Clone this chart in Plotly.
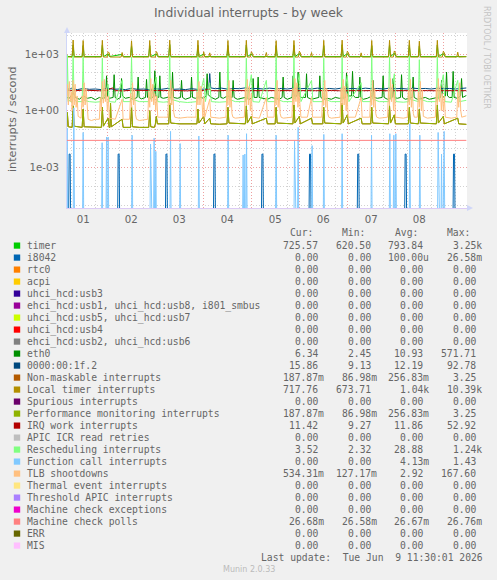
import pandas as pd
import plotly.graph_objects as go

# ---------------- data (hours since 2026-06-01 00:00, value in interrupts/s) ----------------
START = pd.Timestamp("2026-06-01 00:00")
RANGE_H = (3.83, 203.83)

timer_pts = [(3.8,740),(6.4,730),(6.9,3000),(7.4,730),(11.4,730),(11.9,2800),(12.4,730),(21.0,730),(21.5,2900),(22.0,730),
             (24.4,1000),(25.0,730),(31.4,950),(32.0,730),(35.6,730),(36.1,2700),(36.6,730),(44.7,730),(45.2,2800),(45.7,730),
             (48.5,1000),(49.2,730),(54.7,730),(55.2,3200),(55.7,730),(68.8,730),(69.3,2900),(69.8,730),(72.2,1000),(72.8,730),
             (83.8,730),(84.3,2800),(84.8,730),(93.0,730),(93.5,3000),(94.0,730),(96.0,1000),(96.8,730),(107.9,730),(108.4,2700),
             (108.9,730),(116.8,730),(117.3,2900),(117.8,730),(120.0,1050),(120.8,730),(131.7,730),(132.2,2800),(132.7,730),
             (140.9,730),(141.4,3100),(141.9,730),(144.0,1050),(144.8,730),(155.7,730),(156.2,2800),(156.7,730),(164.6,730),
             (165.1,3000),(165.6,730),(167.5,1100),(168.3,730),(174.5,730),(175.0,2900),(175.5,730),(179.5,730),(180.0,2600),
             (180.5,730),(188.5,730),(189.0,3000),(189.5,730),(192.0,1050),(192.8,730),(203.5,725.57)]

i8042_pts = [(3.8,0),(4.4,0),(4.9,0.005),(5.4,0.005),(5.9,0),(28.9,0),(29.4,0.005),(29.9,0.005),(30.4,0),(52.8,0),(53.3,0.005),
             (53.8,0.005),(54.3,0),(76.8,0),(77.3,0.005),(77.8,0.005),(78.3,0),(100.8,0),(101.3,0.005),(101.8,0.005),(102.3,0),
             (124.6,0),(125.1,0.005),(125.6,0.005),(126.1,0),(148.7,0),(149.2,0.005),(149.7,0.005),(150.2,0),(172.4,0),
             (172.9,0.005),(173.4,0.005),(173.9,0),(196.6,0),(197.1,0.005),(197.6,0.005),(198.1,0),(203.5,0)]

zero_pts = [(3.8,0.0),(203.5,0.0)]

eth0_pts = [(3.8,5),(5,4.5),(7,9),(8,5),(10,4),(12,6),(14,4.5),(16,5),(18,3.8),(20,5),(22,4.5),(23.1,5),(23.6,70),(24.1,6),
            (25,4.5),(26.9,5),(27.4,80),(27.9,5),(29,4),(30.6,5),(31.1,50),(31.6,6),(33,4.5),(35,5),(37,4),(38.9,5),(39.4,60),
            (39.9,5),(41,4.2),(43.1,5),(43.6,45),(44.1,5),(46,4.5),(47.25,6),(47.75,130),(48.25,6),(49.75,5),(50.25,70),
            (50.75,5),(52,4.5),(54,5),(56.1,5),(56.6,110),(57.1,5),(59,4.5),(60.6,5),(61.1,40),(61.6,5),(63,4),(65.6,5),
            (66.1,60),(66.6,5),(68,4.5),(70,5.5),(72,4.5),(73.4,6),(73.9,90),(74.4,7),(76,5),(78,4),(79.75,5),(80.25,110),
            (80.75,5),(82,4.5),(84,6),(86.4,5),(86.9,40),(87.4,5),(89,4),(91,4.5),(93,5),(95,4),(96.4,5),(96.9,50),(97.4,5),
            (98.9,5),(99.4,60),(99.9,5),(102,4.5),(104,4),(106,5),(108,4.5),(110,4),(111.4,5),(111.9,60),(112.4,5),(114,4),
            (116.4,5),(116.9,70),(117.4,6),(118.9,6),(119.4,110),(119.9,6),(121,5),(123.1,5),(123.6,90),(124.1,5),(126,4),
            (128,4.5),(129.75,5),(130.25,70),(130.75,5),(132,4),(134,4.5),(136,4),(138,5),(140,4.5),(142,5),(143.1,5),
            (143.6,100),(144.1,6),(146.1,6),(146.6,120),(147.1,6),(148,5),(149.75,5),(150.25,60),(150.75,5),(152,4),
            (154,4.5),(156.4,6),(156.9,40),(157.4,5),(159,4.5),(161.4,5),(161.9,70),(162.4,5),(164,4),(166.4,5),(166.9,50),
            (167.4,5),(169,4.5),(170.6,5),(171.1,80),(171.6,5),(173,4),(175,4.5),(176.4,5),(176.9,60),(177.4,5),(179,4),
            (181,4.5),(183,5),(185,4),(187,4.5),(189,5),(190.6,5),(191.1,40),(191.6,5),(193.1,6),(193.6,110),(194.1,6),
            (195,5),(196.4,5),(196.9,120),(197.4,5),(199,4.5),(200.6,6),(201.1,50),(201.6,5),(203.5,6.34)]

sata_pts = [(3.8,13.5),(6,14.5),(9,13),(12,15),(15,13.5),(18,14),(21,13),(24,15.5),(27,13.5),(30,14),(33,13),(36,15),
            (39,13.5),(42,14),(45,13),(48,14.5),(51,13.5),(54,15),(57,13.5),(60,14),(63,13),(66,14.5),(69,13.5),(72,14),
            (74.7,14),(75.2,92),(75.7,16),(78,14.5),(81,15.5),(84,14),(87,15),(90,14.5),(93,16),(96,14.5),(99,15),(102,14),
            (105,15.5),(108,14.5),(111,15),(114,14),(117,15.5),(120,14.5),(123,15),(126,14),(129,15.5),(132,14.5),(135,15),
            (138,14),(141,15.5),(144,14.5),(147,15),(150,14),(153,15.5),(156,14.5),(159,15),(162,14),(165,15.5),(168,14.5),
            (171,15),(174,14),(177,15.5),(180,14.5),(183,15),(186,14),(189,15.5),(192,14.5),(195,15),(198,14),(201,15.5),
            (203.5,15.86)]

loc_pts = [(3.8,700),(6.4,690),(6.9,5500),(7.4,690),(11.4,690),(11.9,5200),(12.4,690),(21.0,690),(21.5,5300),(22.0,690),
           (23.9,690),(24.4,1300),(24.9,1150),(25.4,690),(30.9,690),(31.4,1200),(31.9,690),(35.6,690),(36.1,5000),(36.6,690),
           (44.7,690),(45.2,5200),(45.7,690),(48.0,690),(48.5,1350),(49.0,1100),(49.5,690),(54.7,690),(55.2,5400),(55.7,690),
           (68.8,690),(69.3,5300),(69.8,690),(71.7,690),(72.2,1300),(72.7,690),(74.7,690),(75.2,1150),(75.7,690),
           (83.8,690),(84.3,5200),(84.8,690),(93.0,690),(93.5,5300),(94.0,690),(95.5,690),(96.0,1300),(96.5,1100),(97.0,690),
           (103.0,690),(103.5,1200),(104.0,690),(107.9,690),(108.4,5100),(108.9,690),(116.8,690),(117.3,5200),(117.8,690),
           (119.5,690),(120.0,1400),(120.5,1150),(121.0,690),(125.6,690),(126.1,1200),(126.6,690),(131.7,690),(132.2,5300),
           (132.7,690),(140.9,690),(141.4,5400),(141.9,690),(143.5,690),(144.0,1400),(144.5,1200),(145.0,690),(150.4,690),
           (150.9,1150),(151.4,690),(155.7,690),(156.2,5200),(156.7,690),(164.6,690),(165.1,5300),(165.6,690),(167.0,690),
           (167.5,1450),(168.0,1200),(168.5,690),(174.5,690),(175.0,5300),(175.5,690),(179.5,690),(180.0,4800),(180.5,690),
           (188.5,690),(189.0,5300),(189.5,690),(191.5,690),(192.0,1400),(192.5,1150),(193.0,690),(198.7,690),(199.2,1250),
           (199.7,690),(203.5,717.76)]

pmi_pts = [(3.8,0.14),(4.0,0.8),(4.5,0.14),(6.4,0.13),(6.9,1.8),(7.4,0.15),(11.4,0.13),(11.9,1.2),(12.4,0.14),(18,0.13),
           (21.0,0.13),(21.5,1.5),(22.0,0.15),(24.4,0.4),(24.9,0.13),(25.3,0.13),(25.6,2.5),(26.0,0.14),(31.4,0.35),
           (31.9,0.13),(35.6,0.13),(36.1,1.8),(36.6,0.14),(40,0.13),(44.7,0.13),(45.2,1.0),(45.7,0.14),(47.5,0.13),
           (48.0,0.19),(48.5,0.5),(49.0,0.2),(54.7,0.2),(55.2,2.5),(55.7,0.22),(60,0.2),(68.8,0.2),(69.3,1.2),(69.8,0.22),
           (72.2,0.5),(72.7,0.2),(75.2,0.4),(75.7,0.2),(80,0.19),(83.8,0.2),(84.3,1.5),(84.8,0.22),(93.0,0.2),(93.5,1.8),
           (94.0,0.22),(96.0,0.5),(96.5,0.2),(103.5,0.4),(104.0,0.2),(107.9,0.2),(108.4,1.5),(108.9,0.22),(116.8,0.2),
           (117.3,2.0),(117.8,0.22),(120.0,0.5),(120.5,0.2),(126.1,0.4),(126.6,0.2),(131.7,0.2),(132.2,1.5),(132.7,0.22),
           (140.9,0.2),(141.4,2.5),(141.9,0.22),(144.0,0.6),(144.5,0.2),(150.9,0.4),(151.4,0.2),(155.7,0.2),(156.2,1.5),
           (156.7,0.22),(164.6,0.2),(165.1,1.8),(165.6,0.22),(167.5,0.6),(168.0,0.2),(174.5,0.2),(175.0,1.5),(175.5,0.22),
           (179.5,0.2),(180.0,1.2),(180.5,0.22),(188.5,0.2),(189.0,2.0),(189.5,0.22),(192.0,0.5),(192.5,0.2),(199.2,0.4),
           (199.7,0.2),(203.5,0.188)]
nmi_pts = pmi_pts  # identical readings (same Cur/Min/Avg/Max)

iwi_pts = [(3.8,11.8),(8,11.4),(12,12.2),(16,11.5),(20,11.3),(24,11.9),(26.5,16),(28,11.5),(32,11.2),(36,12.0),(40,11.6),
           (44,11.3),(48,11.8),(52,11.5),(56,11.7),(60,11.4),(64,11.2),(68,11.9),(72,11.6),(75.2,14),(76,11.5),(80,11.3),
           (84,12.0),(88,11.5),(92,11.6),(96,11.3),(100,11.7),(104,11.4),(108,11.9),(112,11.5),(116,11.3),(120,11.8),
           (124,11.5),(128,11.4),(132,11.9),(136,11.6),(140,11.3),(144,11.8),(148,11.5),(152,11.4),(156,11.9),(160,11.6),
           (164,11.3),(168,11.7),(172,11.5),(176,11.4),(180,11.8),(184,11.5),(188,11.3),(192,11.7),(196,11.5),(200,11.4),
           (203.5,11.42)]

res_pts = [(3.8,3),(4.0,900),(4.5,4),(5.5,3),(6.4,3),(6.9,800),(7.4,4),(8.5,3),(11.4,3),(11.9,700),(12.4,3.5),(15,3),
           (18,2.8),(21.0,3),(21.5,600),(22.0,4),(24.4,25),(25,3),(28,2.8),(31.4,40),(32,3),(35.6,3),(36.1,700),(36.6,4),
           (40,3),(44.7,3),(45.2,500),(45.7,4),(48.5,60),(49.2,3),(52,2.8),(54.7,3),(55.2,800),(55.7,4),(60,3),(64,2.7),
           (68.8,3),(69.3,700),(69.8,4),(72.2,50),(73,3),(75.2,30),(76,3),(80,2.8),(83.8,3),(84.3,800),(84.8,4),(88,3),
           (93.0,3),(93.5,600),(94.0,4),(96.0,80),(96.8,3),(100,2.8),(103.5,40),(104.2,3),(107.9,3),(108.4,700),(108.9,4),
           (112,3),(116.8,3),(117.3,800),(117.8,4),(120.0,90),(120.8,3),(126.1,40),(126.8,3),(131.7,3),(132.2,600),
           (132.7,4),(136,3),(140.9,3),(141.4,700),(141.9,4),(144.0,70),(144.8,3),(150.9,30),(151.6,3),(155.7,3),
           (156.2,800),(156.7,4),(160,3),(164.6,3),(165.1,700),(165.6,4),(167.5,90),(168.3,3),(172,2.8),(174.5,3),
           (175.0,800),(175.5,4),(179.5,3),(180.0,500),(180.5,4),(184,3),(188.5,3),(189.0,700),(189.5,4),(192.0,80),
           (192.8,3),(196,2.8),(199.2,40),(200,3),(203.5,3.52)]

cal_pts = [(3.8,0),(3.9,0.12),(4.3,0),(6.75,0),(7.25,1.4),(7.75,0),(11.4,0),(11.9,0.07),(12.4,0),(20.9,0),(21.4,0.02),
           (21.9,0),(23.1,0),(23.6,0.04),(24.0,0),(24.4,0.04),(24.9,0),(35.9,0),(36.4,0.05),(36.9,0),(45.1,0),(45.6,0.017),
           (46.1,0),(46.9,0),(47.4,0.035),(47.8,0),(48.25,0.007),(48.7,0),(55.1,0),(55.6,0.08),(56.1,0),(59.9,0),
           (60.4,0.018),(60.9,0),(69.25,0),(69.75,0.045),(70.25,0),(83.9,0),(84.4,0.05),(84.9,0),(91.4,0),(91.9,0.0045),
           (92.3,0),(92.75,0.005),(93.15,0),(93.6,0.06),(94.1,0),(107.9,0),(108.4,0.05),(108.9,0),(117.1,0),(117.6,0.025),
           (118.0,0),(118.9,0),(119.4,0.13),(119.9,0),(125.9,0),(126.4,0.014),(126.9,0),(131.75,0),(132.25,0.055),
           (132.75,0),(140.9,0),(141.4,0.06),(141.9,0),(155.6,0),(156.1,0.05),(156.6,0),(164.75,0),(165.25,0.06),
           (165.75,0),(166.75,0),(167.25,0.05),(167.75,0),(168.25,0.06),(168.75,0),(174.75,0),(175.25,0.2),(175.75,0),
           (179.75,0),(180.25,0.05),(180.75,0),(188.9,0),(189.4,0.07),(189.9,0),(190.6,0),(191.1,0.005),(191.6,0),
           (192.4,0.08),(192.9,0),(203.5,0)]

tlb_pts = [(3.8,6),(4.0,25),(4.5,2),(5.0,35),(5.5,3),(6.0,10),(6.4,1),(6.9,40),(7.4,2),(7.9,25),(8.4,1.5),(8.9,6),(9.4,0.5),
           (10.9,0.4),(11.4,6),(11.9,1.5),(12.4,30),(12.9,2),(13.4,15),(13.9,0.8),(14.4,0.35),(16,0.3),(18,0.35),
           (20.0,0.35),(20.5,5),(21.0,1),(21.5,35),(22.0,2.5),(22.5,45),(23.0,3),(23.5,15),(24.0,1),(24.5,6),(25.0,0.4),
           (28,0.35),(31.4,4),(31.9,0.35),(35.1,0.35),(35.6,8),(36.1,1.5),(36.6,30),(37.1,2),(37.6,12),(38.1,0.6),
           (38.6,0.35),(40,0.3),(44.2,0.35),(44.7,10),(45.2,1.5),(45.7,50),(46.2,3),(46.7,25),(47.2,2),(47.7,8),(48.2,1),
           (48.7,6),(49.2,0.45),(52,0.45),(54.2,0.45),(54.7,12),(55.2,2),(55.7,40),(56.2,2),(56.7,15),(57.2,0.8),
           (57.7,0.45),(60,0.4),(64,0.45),(68.3,0.45),(68.8,10),(69.3,2),(69.8,35),(70.3,2),(70.8,20),(71.3,1),(71.8,0.45),
           (72.2,5),(72.7,0.45),(75.2,4),(75.7,0.45),(80,0.4),(83.3,0.45),(83.8,12),(84.3,2),(84.8,40),(85.3,1.5),
           (85.8,15),(86.3,0.7),(86.8,0.45),(88,0.4),(92.5,0.45),(93.0,15),(93.5,2),(94.0,45),(94.5,2),(95.0,20),(95.5,1),
           (96.0,8),(96.5,0.45),(100,0.4),(103.5,5),(104.0,0.45),(107.4,0.45),(107.9,12),(108.4,2),(108.9,40),(109.4,1.5),
           (109.9,15),(110.4,0.7),(110.9,0.45),(112,0.4),(116.3,0.45),(116.8,15),(117.3,2),(117.8,50),(118.3,3),(118.8,30),
           (119.3,1.5),(119.8,10),(120.3,1),(120.8,0.45),(124,0.45),(126.1,5),(126.6,0.45),(131.2,0.45),(131.7,12),
           (132.2,2),(132.7,40),(133.2,1.5),(133.7,15),(134.2,0.7),(134.7,0.45),(136,0.4),(140.4,0.45),(140.9,15),
           (141.4,2),(141.9,45),(142.4,2),(142.9,20),(143.4,1),(143.9,8),(144.4,0.45),(148,0.45),(150.9,5),(151.4,0.45),
           (155.2,0.45),(155.7,12),(156.2,2),(156.7,40),(157.2,1.5),(157.7,15),(158.2,0.7),(158.7,0.45),(160,0.4),
           (164.1,0.45),(164.6,15),(165.1,2),(165.6,50),(166.1,3),(166.6,25),(167.1,1),(167.6,10),(168.1,0.45),(172,0.4),
           (174.0,0.45),(174.5,12),(175.0,2),(175.5,45),(176.0,1.5),(176.5,15),(177.0,0.7),(177.5,0.45),(179.0,0.45),
           (179.5,10),(180.0,1.5),(180.5,35),(181.0,1),(181.5,12),(182.0,0.5),(184,0.4),(188.0,0.45),(188.5,15),(189.0,2),
           (189.5,50),(190.0,3),(190.5,20),(191.0,1),(191.5,8),(192.0,1),(192.5,6),(193.0,0.45),(196,0.4),(198.7,0.45),
           (199.2,10),(199.7,1.5),(200.2,30),(200.7,1),(201.2,0.45),(203.5,0.534)]

mcp_pts = [(3.8,0.02667),(203.5,0.02668)]

# legend table
labels = ["timer", "i8042", "rtc0", "acpi", "uhci_hcd:usb3", "ehci_hcd:usb1, uhci_hcd:usb8, i801_smbus",
          "uhci_hcd:usb5, uhci_hcd:usb7", "uhci_hcd:usb4", "ehci_hcd:usb2, uhci_hcd:usb6", "eth0", "0000:00:1f.2",
          "Non-maskable interrupts", "Local timer interrupts", "Spurious interrupts", "Performance monitoring interrupts",
          "IRQ work interrupts", "APIC ICR read retries", "Rescheduling interrupts", "Function call interrupts",
          "TLB shootdowns", "Thermal event interrupts", "Threshold APIC interrupts", "Machine check exceptions",
          "Machine check polls", "ERR", "MIS"]
colors = ["#00CC00", "#0066B3", "#FF8000", "#FFCC00", "#330099", "#990099", "#CCFF00", "#FF0000", "#808080", "#008F00",
          "#00487D", "#B35A00", "#B38F00", "#6B006B", "#8FB300", "#B30000", "#BEBEBE", "#80FF80", "#80C9FF", "#FFC080",
          "#FFE680", "#AA80FF", "#EE00CC", "#FF8080", "#666600", "#FFBFFF"]
cur_vals = ["725.57", "0.00", "0.00", "0.00", "0.00", "0.00", "0.00", "0.00", "0.00", "6.34", "15.86", "187.87m",
            "717.76", "0.00", "187.87m", "11.42", "0.00", "3.52", "0.00", "534.31m", "0.00", "0.00", "0.00", "26.68m",
            "0.00", "0.00"]
min_vals = ["620.50", "0.00", "0.00", "0.00", "0.00", "0.00", "0.00", "0.00", "0.00", "2.45", "9.13", "86.98m",
            "673.71", "0.00", "86.98m", "9.27", "0.00", "2.32", "0.00", "127.17m", "0.00", "0.00", "0.00", "26.58m",
            "0.00", "0.00"]
avg_vals = ["793.84", "100.00u", "0.00", "0.00", "0.00", "0.00", "0.00", "0.00", "0.00", "10.93", "12.19", "256.83m",
            "1.04k", "0.00", "256.83m", "11.86", "0.00", "28.88", "4.13m", "2.92", "0.00", "0.00", "0.00", "26.67m",
            "0.00", "0.00"]
max_vals = ["3.25k", "26.58m", "0.00", "0.00", "0.00", "0.00", "0.00", "0.00", "0.00", "571.71", "92.78", "3.25",
            "10.39k", "0.00", "3.25", "52.92", "0.00", "1.24k", "1.43", "167.60", "0.00", "0.00", "0.00", "26.76m",
            "0.00", "0.00"]
series_points = [timer_pts, i8042_pts, zero_pts, zero_pts, zero_pts, zero_pts, zero_pts, zero_pts, zero_pts, eth0_pts,
                 sata_pts, nmi_pts, loc_pts, zero_pts, pmi_pts, iwi_pts, zero_pts, res_pts, cal_pts, tlb_pts,
                 zero_pts, zero_pts, zero_pts, mcp_pts, zero_pts, zero_pts]

y_ticks = [1e-3, 1.0, 1e3]
y_ticktext = ["1e-03", "1e+00", "1e+03"]
y_minor = [1e-5, 1e-4, 1e-2, 1e-1, 1e1, 1e2, 1e4]
day_labels = ["01", "02", "03", "04", "05", "06", "07", "08"]
last_update = "Last update:  Tue Jun  9 11:30:01 2026"

# ---------------- helpers ----------------
W, H = 497, 580
PL, PR, PT, PB = 67, 467, 33, 208  # plot area in pixels
ZERO_FLOOR = 1e-9  # rrdtool draws zero values at the bottom edge of a log graph


def hdt(h):
    return START + pd.Timedelta(hours=h)


def px(x):
    return (x - PL) / (PR - PL)


def py(y):
    return (PB - y) / (PB - PT)


FONT = "#666666"
MONO = "DejaVu Sans Mono"
SANS = "DejaVu Sans"

fig = go.Figure()
for name, color, pts in zip(labels, colors, series_points):
    fig.add_trace(go.Scatter(
        x=[hdt(p[0]) for p in pts],
        y=[p[1] if p[1] > 0 else ZERO_FLOOR for p in pts],
        mode="lines", line=dict(color=color, width=1), name=name,
        showlegend=False, hoverinfo="skip"))
# empty trace carrying the midnight grid axis
fig.add_trace(go.Scatter(x=[], y=[], xaxis="x2", yaxis="y", showlegend=False, hoverinfo="skip"))

xr = [hdt(RANGE_H[0]), hdt(RANGE_H[1])]
noons = [hdt(12 + 24 * d) for d in range(8)]
midnights = [hdt(24 * d) for d in range(1, 9)]
six_h = [hdt(6 * k) for k in range(1, 35) if (6 * k) % 24 != 0]

GRID_MINOR = "#D2D2D2"
GRID_MAJOR = "#EEA0A0"
DASH = "1px,2px"
AXIS = "#CFD6F8"

fig.update_layout(
    width=W, height=H,
    margin=dict(l=PL, r=W - PR, t=PT, b=H - PB, pad=0),
    paper_bgcolor="#F0F0F0", plot_bgcolor="#FFFFFF",
    showlegend=False,
    title=dict(text="Individual interrupts - by week", x=0.5, xanchor="center", xref="container",
               y=1 - 13 / H, yanchor="middle", yref="container",
               font=dict(family=SANS, size=12.4, color=FONT)),
    xaxis=dict(type="date", range=xr, tickmode="array", tickvals=noons, ticktext=day_labels,
               showgrid=False, zeroline=False, ticks="", showline=True, linecolor="#DCCBF5", linewidth=1,
               tickfont=dict(family=SANS, size=10.2, color=FONT), ticklabelstandoff=2,
               minor=dict(tickmode="array", tickvals=six_h, showgrid=True, gridcolor=GRID_MINOR,
                          griddash=DASH, gridwidth=1, ticks="")),
    xaxis2=dict(type="date", range=xr, overlaying="x", anchor="y", tickmode="array", tickvals=midnights,
                showticklabels=False, showgrid=True, gridcolor=GRID_MAJOR, griddash=DASH, gridwidth=1,
                ticks="", showline=False, zeroline=False),
    yaxis=dict(type="log", range=[-5.156, 4.112], tickmode="array", tickvals=y_ticks, ticktext=y_ticktext,
               showgrid=True, gridcolor=GRID_MAJOR, griddash=DASH, gridwidth=1, zeroline=False, ticks="",
               showline=True, linecolor=AXIS, linewidth=1, ticklabelstandoff=5,
               tickfont=dict(family=SANS, size=10.2, color=FONT),
               minor=dict(tickmode="array", tickvals=y_minor, showgrid=True, gridcolor=GRID_MINOR,
                          griddash=DASH, gridwidth=1, ticks="")),
)

ann = []
shapes = []
# y axis title
ann.append(dict(text="interrupts / second", x=px(12), y=py(119), xref="paper", yref="paper", showarrow=False,
                textangle=-90, font=dict(family=SANS, size=11.2, color=FONT), xanchor="center", yanchor="middle"))
# watermark
ann.append(dict(text="RRDTOOL / TOBI OETIKER", x=px(487), y=py(57), xref="paper", yref="paper", showarrow=False,
                textangle=90, font=dict(family=SANS, size=8, color="#C4C4C4"), xanchor="center", yanchor="middle"))
# axis arrows
shapes.append(dict(type="path", xref="paper", yref="paper", line=dict(width=0), fillcolor=AXIS,
                   path=f"M {px(64)} {py(33)} L {px(70)} {py(33)} L {px(67)} {py(27)} Z"))
shapes.append(dict(type="path", xref="paper", yref="paper", line=dict(width=0), fillcolor=AXIS,
                   path=f"M {px(467)} {py(205)} L {px(467)} {py(211)} L {px(473)} {py(208)} Z"))

NB = "\u00a0"


def cell(v):
    return v if v[-1].isalpha() else v + NB


col_right = [325.2, 377.7, 430.2, 482.7]
headers = ["Cur:", "Min:", "Avg:", "Max:"]
LF = dict(family=MONO, size=9.7, color=FONT)
for hdr, cr in zip(headers, col_right):
    ann.append(dict(text=hdr, x=px(cr - 11.66), y=py(232.6), xref="paper", yref="paper", showarrow=False,
                    xanchor="right", yanchor="middle", font=LF, borderpad=0))
ROW0, ROWH = 245.6, 12.0
for i, lab in enumerate(labels):
    yc = ROW0 + ROWH * i
    shapes.append(dict(type="rect", xref="paper", yref="paper", x0=px(13.8), x1=px(20.2), y0=py(yc + 3.1),
                       y1=py(yc - 3.1), fillcolor=colors[i], line=dict(width=0)))
    ann.append(dict(text=lab, x=px(26.3), y=py(yc), xref="paper", yref="paper", showarrow=False,
                    xanchor="left", yanchor="middle", font=LF, borderpad=0))
    for vals, cr in zip([cur_vals, min_vals, avg_vals, max_vals], col_right):
        ann.append(dict(text=cell(vals[i]), x=px(cr), y=py(yc), xref="paper", yref="paper", showarrow=False,
                        xanchor="right", yanchor="middle", font=LF, borderpad=0))
ann.append(dict(text=last_update.replace(" ", NB), x=px(483.5), y=py(557.4), xref="paper", yref="paper",
                showarrow=False, xanchor="right", yanchor="middle", font=LF, borderpad=0))
ann.append(dict(text="Munin 2.0.33", x=px(249), y=py(569), xref="paper", yref="paper", showarrow=False,
                xanchor="center", yanchor="middle", font=dict(family=SANS, size=8, color="#BBBBBB"), borderpad=0))

fig.update_layout(annotations=ann, shapes=shapes)
fig.write_html("out.html")
